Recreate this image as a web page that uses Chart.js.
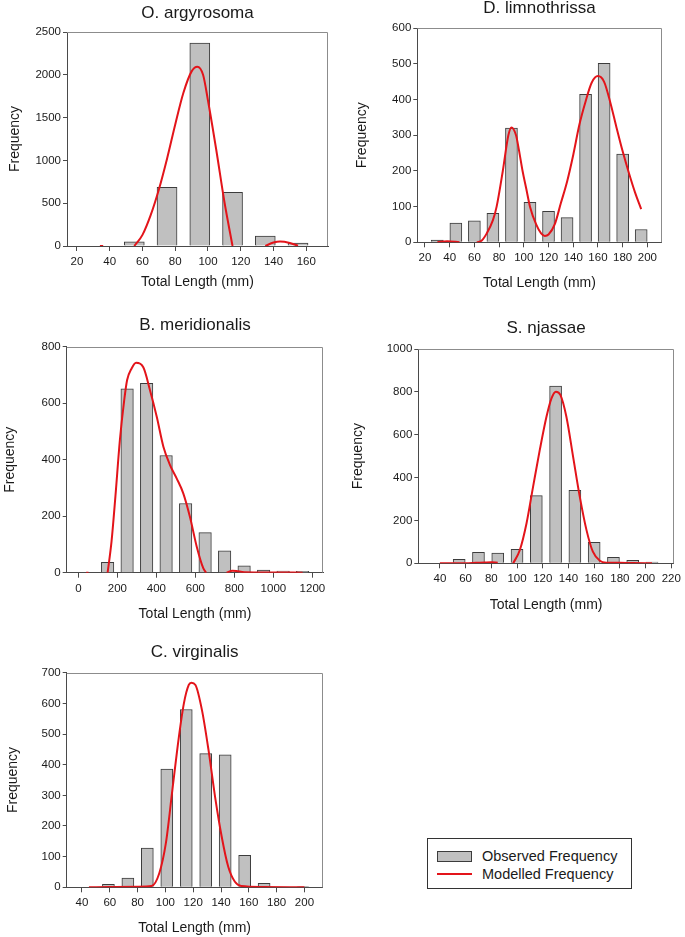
<!DOCTYPE html>
<html>
<head>
<meta charset="utf-8">
<script src="https://cdn.jsdelivr.net/npm/chart.js@4.4.0/dist/chart.umd.min.js"></script>
<style>
  body { margin: 0; background: #fff; }
  #page { position: relative; width: 685px; height: 937px; overflow: hidden; font-family: "Liberation Sans", Arial, sans-serif; }
  #page canvas { position: absolute; }
  #legend { position: absolute; left: 427px; top: 838px; width: 205px; height: 51px; border: 1px solid #333; box-sizing: border-box; color: #1a1a1a; font-size: 14.5px; }
  #legend .item { position: absolute; left: 9px; height: 18px; width: 190px; }
  #legend .key { position: absolute; left: 0; width: 35px; box-sizing: border-box; }
  #legend .txt { position: absolute; left: 45px; top: 0; line-height: 18px; white-space: nowrap; }
</style>
</head>
<body>
<div id="page">
  <canvas id="c1" width="340" height="295" style="left:0;top:0"></canvas>
  <canvas id="c2" width="345" height="298" style="left:340px;top:-3px"></canvas>
  <canvas id="c3" width="340" height="325" style="left:0;top:300px"></canvas>
  <canvas id="c4" width="345" height="320" style="left:340px;top:305px"></canvas>
  <canvas id="c5" width="340" height="312" style="left:0;top:625px"></canvas>
  <div id="legend"></div>
</div>
<script>
// O. argyrosoma
var argyLen = [55, 75, 95, 115, 135, 155];
var argyObs = [50, 684, 2372, 626, 117, 35];
var argyFitX = [34, 36, 45, 55, 60, 65, 70, 75, 80, 85, 90, 93.5, 97, 100, 105, 110, 115, 125, 135, 140, 144, 150, 155];
var argyFitY = [0, 0, null, 0, 130, 360, 660, 1020, 1420, 1790, 2040, 2095, 2000, 1700, 1130, 520, 0, null, 0, 40, 53, 36, 4];
var argyXTicks = [20, 40, 60, 80, 100, 120, 140, 160];
var argyYTicks = [0, 500, 1000, 1500, 2000, 2500];

// D. limnothrissa
var limnLen = [30, 45, 60, 75, 90, 105, 120, 135, 150, 165, 180, 195];
var limnObs = [6, 54, 60, 81, 320, 112, 87, 69, 415, 502, 247, 36];
var limnFitX = [30, 38, 48, 55, 62, 66, 70, 75, 78, 83, 87.5, 90, 93.7, 96, 99, 102, 105, 110, 114, 117, 120, 125, 130, 135, 140, 145, 150, 155, 160, 165, 170, 175, 180, 185, 190, 195];
var limnFitY = [0, 3, 0, null, 0, 5, 25, 62, 100, 200, 300, 322, 300, 260, 200, 150, 100, 50, 25, 18, 22, 50, 110, 170, 245, 330, 395, 448, 466, 450, 392, 322, 255, 195, 140, 93];
var limnXTicks = [20, 40, 60, 80, 100, 120, 140, 160, 180, 200];
var limnYTicks = [0, 100, 200, 300, 400, 500, 600];

// B. meridionalis
var meriLen = [150, 250, 350, 450, 550, 650, 750, 850, 950, 1050, 1150];
var meriObs = [37, 651, 670, 415, 245, 142, 77, 24, 9, 6, 5];
var meriFitX = [40, 52, 100, 150, 170, 190, 213, 235, 250, 273, 296, 333, 367, 402, 436, 470, 504, 538, 572, 607, 641, 655, 700, 760, 790, 810, 850, 1000, 1150];
var meriFitY = [0, 0, null, 0, 110, 270, 470, 610, 682, 723, 743, 727, 647, 552, 446, 381, 334, 281, 198, 92, 15, 0, null, 0, 7, 6, 2, 1, 0];
var meriXTicks = [0, 200, 400, 600, 800, 1000, 1200];
var meriYTicks = [0, 200, 400, 600, 800];

// S. njassae
var njasLen = [55, 70, 85, 100, 115, 130, 145, 160, 175, 190, 205];
var njasObs = [19, 51, 48, 65, 316, 827, 340, 98, 28, 14, 6];
var njasFitX = [40, 60, 68, 75, 80, 85, 90, 97, 102.2, 107.4, 112.5, 117.7, 122.9, 126.8, 130.2, 133.8, 138.4, 143.6, 148.8, 154, 159, 164.4, 169.5, 180, 190, 205];
var njasFitY = [0, 0, 2, 4, 5, 3, null, 0, 62, 187, 358, 529, 684, 770, 801, 785, 684, 498, 311, 156, 54, 12, 3, 2, 1, 0];
var njasXTicks = [40, 60, 80, 100, 120, 140, 160, 180, 200, 220];
var njasYTicks = [0, 200, 400, 600, 800, 1000];

// C. virginalis
var virgLen = [59, 73, 87, 101, 115, 129, 143, 157, 171, 199];
var virgObs = [10, 30, 128, 386, 580, 436, 432, 104, 13, 2];
var virgFitX = [45, 60, 80, 90, 95.6, 100.3, 105, 109.7, 113.3, 116.8, 118.7, 121.6, 126.3, 131, 135.7, 140.5, 145.2, 150, 154.6, 170, 200];
var virgFitY = [0, 1, 2, 4, 46, 143, 317, 491, 600, 660, 667, 660, 578, 448, 296, 165, 67, 18, 4, 1, 0];
var virgXTicks = [40, 60, 80, 100, 120, 140, 160, 180, 200];
var virgYTicks = [0, 100, 200, 300, 400, 500, 600, 700];

var FONT = '"Liberation Sans", Arial, sans-serif';
var RED = '#e3141a';
var AXIS = '#4a4a4a';
var TXT = '#1a1a1a';

// top and right edges of the plot frame
var frame = {
  id: 'frame',
  afterDraw: function (c) {
    var a = c.chartArea, ctx = c.ctx;
    ctx.save();
    ctx.strokeStyle = '#8c8c8c';
    ctx.lineWidth = 1;
    ctx.beginPath();
    ctx.moveTo(a.left, Math.round(a.top) + 0.5);
    ctx.lineTo(Math.round(a.right) - 0.5, Math.round(a.top) + 0.5);
    ctx.lineTo(Math.round(a.right) - 0.5, a.bottom);
    ctx.stroke();
    ctx.restore();
  }
};

function plain(v) { return String(v); }

function makePanel(id, p) {
  var bars = p.len.map(function (x, i) { return {x: x, y: p.obs[i]}; });
  var fit = p.fitX.map(function (x, i) { return {x: x, y: p.fitY[i]}; });
  return new Chart(document.getElementById(id), {
    type: 'bar',
    data: {
      datasets: [{
        type: 'line',
        label: 'Modelled Frequency',
        data: fit,
        borderColor: RED,
        borderWidth: 2,
        pointRadius: 0,
        fill: false,
        spanGaps: false,
        cubicInterpolationMode: 'monotone',
        order: 0
      }, {
        type: 'bar',
        label: 'Observed Frequency',
        data: bars,
        backgroundColor: '#c0c0c0',
        borderColor: '#3c3c3c',
        borderWidth: 1,
        barThickness: p.barPx,
        order: 1
      }]
    },
    options: {
      responsive: false,
      animation: false,
      layout: {padding: {left: 0, top: 0, right: p.padR, bottom: 0}},
      plugins: {
        legend: {display: false},
        tooltip: {enabled: false},
        title: {
          display: true, text: p.title, fullSize: false, color: TXT,
          font: {family: FONT, size: 17, weight: 'normal'},
          padding: {top: p.tTop, bottom: p.tBot}
        }
      },
      scales: {
        x: {
          type: 'linear', min: p.xMin, max: p.xMax, offset: false,
          afterBuildTicks: function (s) { s.ticks = p.xTicks.map(function (v) { return {value: v}; }); },
          afterFit: function (s) { s.height = p.xH; },
          grid: {drawOnChartArea: false, offset: false, tickLength: 5, color: AXIS},
          border: {color: AXIS},
          ticks: {color: TXT, font: {family: FONT, size: 11.5}, padding: 4, maxRotation: 0, autoSkip: false, callback: plain},
          title: {display: true, text: 'Total Length (mm)', color: TXT, font: {family: FONT, size: 14}, padding: {top: 0, bottom: p.xtPad}}
        },
        y: {
          min: 0, max: p.yMax,
          afterBuildTicks: function (s) { s.ticks = p.yTicks.map(function (v) { return {value: v}; }); },
          afterFit: function (s) { s.width = p.yW; },
          grid: {drawOnChartArea: false, tickLength: 4, color: AXIS},
          border: {color: AXIS},
          ticks: {color: TXT, font: {family: FONT, size: 11.5}, padding: 2, callback: plain},
          title: {display: true, text: 'Frequency', color: TXT, font: {family: FONT, size: 14}, padding: {top: p.ytPad, bottom: 0}}
        }
      }
    },
    plugins: [frame]
  });
}

makePanel('c1', {title: 'O. argyrosoma', len: argyLen, obs: argyObs, fitX: argyFitX, fitY: argyFitY,
  xTicks: argyXTicks, yTicks: argyYTicks, xMin: 13.9, xMax: 173.3, yMax: 2500, barPx: 20,
  padR: 12, tTop: 2.8, tBot: 8.8, yW: 67, ytPad: 6.6, xH: 49, xtPad: 4.6});

makePanel('c2', {title: 'D. limnothrissa', len: limnLen, obs: limnObs, fitX: limnFitX, fitY: limnFitY,
  xTicks: limnXTicks, yTicks: limnYTicks, xMin: 13.8, xMax: 211.6, yMax: 600, barPx: 12,
  padR: 23.3, tTop: 1.1, tBot: 9.8, yW: 77.3, ytPad: 13.3, xH: 52.7, xtPad: 3.3});

makePanel('c3', {title: 'B. meridionalis', len: meriLen, obs: meriObs, fitX: meriFitX, fitY: meriFitY,
  xTicks: meriXTicks, yTicks: meriYTicks, xMin: -59.8, xMax: 1256, yMax: 800, barPx: 12.5,
  padR: 16.7, tTop: 14.8, tBot: 11.5, yW: 66.7, ytPad: 1.6, xH: 52.3, xtPad: 2.6});

makePanel('c4', {title: 'S. njassae', len: njasLen, obs: njasObs, fitX: njasFitX, fitY: njasFitY,
  xTicks: njasXTicks, yTicks: njasYTicks, xMin: 23.2, xMax: 222, yMax: 1000, barPx: 12,
  padR: 10.7, tTop: 12.8, tBot: 10.8, yW: 78.3, ytPad: 9.9, xH: 61.7, xtPad: 11.6});

var last = makePanel('c5', {title: 'C. virginalis', len: virgLen, obs: virgObs, fitX: virgFitX, fitY: virgFitY,
  xTicks: virgXTicks, yTicks: virgYTicks, xMin: 29, xMax: 213, yMax: 700, barPx: 12,
  padR: 17.5, tTop: 17.5, tBot: 9.8, yW: 66.7, ytPad: 4.9, xH: 49.7, xtPad: 0.6});

// legend built from the dataset styles of the last panel
(function () {
  var box = document.getElementById('legend');
  var ds = last.data.datasets;
  var items = [ds[1], ds[0]];
  items.forEach(function (d, i) {
    var row = document.createElement('div');
    row.className = 'item';
    row.style.top = (i === 0 ? 8 : 26) + 'px';
    var key = document.createElement('div');
    key.className = 'key';
    if (d.type === 'bar') {
      key.style.top = '4px'; key.style.height = '11px';
      key.style.background = d.backgroundColor;
      key.style.border = '1px solid ' + d.borderColor;
    } else {
      key.style.top = '8px'; key.style.height = '2px';
      key.style.background = d.borderColor;
    }
    var txt = document.createElement('div');
    txt.className = 'txt';
    txt.textContent = d.label;
    row.appendChild(key);
    row.appendChild(txt);
    box.appendChild(row);
  });
})();
</script>
</body>
</html>
